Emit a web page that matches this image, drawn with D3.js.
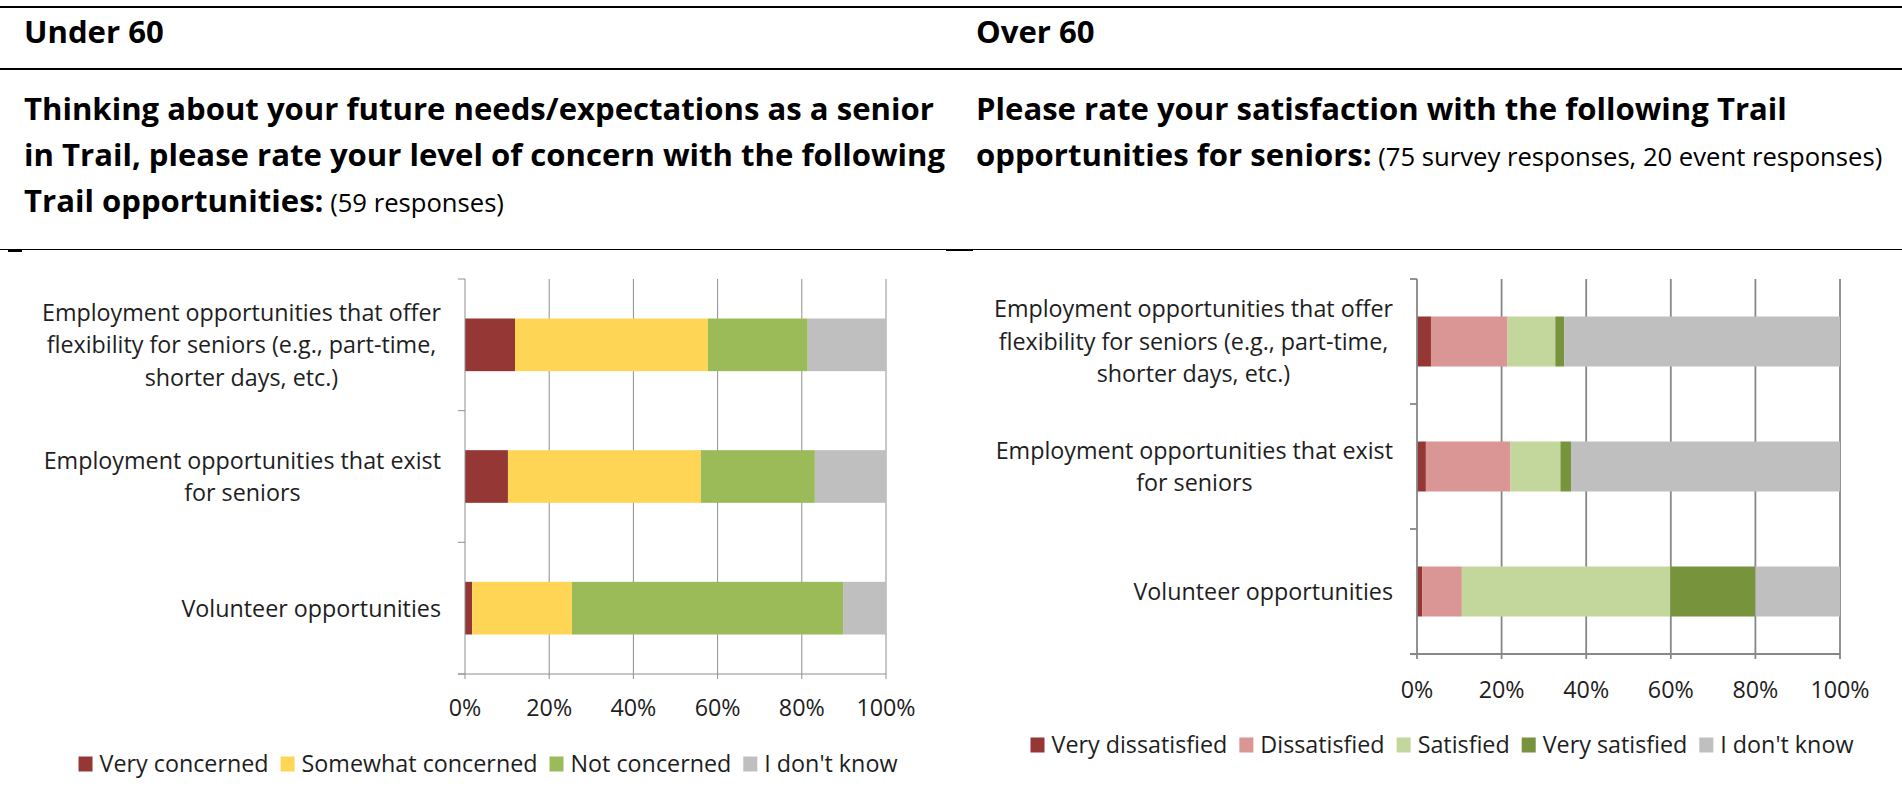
<!DOCTYPE html>
<html><head><meta charset="utf-8">
<script src="https://cdn.jsdelivr.net/npm/d3@7"></script>
<style>
html,body{margin:0;padding:0;background:#fff;}
svg{display:block;}
text{font-family:"Open Sans",sans-serif;}
</style></head><body>
<svg id="c" width="1902" height="801"></svg>
<script>
// ---------- DATA ----------
const categoryLines = [
  ["Employment opportunities that offer", "flexibility for seniors (e.g., part-time,", "shorter days, etc.)"],
  ["Employment opportunities that exist", "for seniors"],
  ["Volunteer opportunities"]
];
const categories = categoryLines.map(l => l.join(" "));

const under60Series = ["Very concerned", "Somewhat concerned", "Not concerned", "I don't know"];
const veryConcerned     = [11.9, 10.2, 1.7];
const somewhatConcerned = [45.8, 45.8, 23.7];
const notConcerned      = [23.7, 27.1, 64.4];
const under60DontKnow   = [18.6, 16.9, 10.2];
const under60Colors = ["#953735", "#FFD555", "#9BBB59", "#BFBFBF"];

const over60Series = ["Very dissatisfied", "Dissatisfied", "Satisfied", "Very satisfied", "I don't know"];
const veryDissatisfied = [3.3, 2.1, 1.2];
const dissatisfied     = [18.1, 20.0, 9.4];
const satisfied        = [11.3, 11.8, 49.3];
const verySatisfied    = [2.1, 2.5, 20.1];
const over60DontKnow   = [65.2, 63.6, 20.0];
const over60Colors = ["#953735", "#D99694", "#C3D69B", "#77933C", "#BFBFBF"];

const tickValues = [0, 20, 40, 60, 80, 100];
const tickLabels = ["0%", "20%", "40%", "60%", "80%", "100%"];

const leftHeading = "Under 60";
const rightHeading = "Over 60";
const leftTitle = [["Thinking about your future needs/expectations as a senior", ""],
                   ["in Trail, please rate your level of concern with the following", ""],
                   ["Trail opportunities:", "(59 responses)"]];
const rightTitle = [["Please rate your satisfaction with the following Trail", ""],
                    ["opportunities for seniors:", "(75 survey responses, 20 event responses)"]];

// ---------- DRAW ----------
const svg = d3.select("#c");
const textColor = "#1e1e1e";

function measure(str, size, weight) {
  const t = svg.append("text").attr("font-size", size).attr("font-weight", weight).text(str);
  const w = t.node().getComputedTextLength();
  t.remove();
  return w;
}
// fit heading font sizes to the reference widths
const boldSize = 30 * 910 / measure(leftTitle[0][0], 30, 700);
const normSize = 26 * 504 / measure(rightTitle[1][1], 26, 400);
const chartSize = 23.3;

// rules
svg.append("rect").attr("x", 0).attr("y", 6).attr("width", 1902).attr("height", 2).attr("fill", "#000");
svg.append("rect").attr("x", 0).attr("y", 68).attr("width", 1902).attr("height", 2).attr("fill", "#000");
svg.append("rect").attr("x", 0).attr("y", 249).attr("width", 1902).attr("height", 1).attr("fill", "#000");
svg.append("rect").attr("x", 8).attr("y", 249).attr("width", 14).attr("height", 3).attr("fill", "#000");
svg.append("rect").attr("x", 946).attr("y", 249).attr("width", 27).attr("height", 2).attr("fill", "#000");

function drawHeading(x, heading, title) {
  svg.append("text").attr("x", x).attr("y", 43).attr("font-size", boldSize).attr("font-weight", 700)
    .attr("fill", "#000").text(heading);
  const baselines = [120, 166, 212];
  title.forEach((ln, i) => {
    const t = svg.append("text").attr("x", x).attr("y", baselines[i]).attr("fill", "#000");
    t.append("tspan").attr("font-size", boldSize).attr("font-weight", 700).text(ln[0]);
    if (ln[1]) t.append("tspan").attr("font-size", normSize).attr("font-weight", 400).text(" " + ln[1]);
  });
}
drawHeading(24, leftHeading, leftTitle);
drawHeading(976, rightHeading, rightTitle);

function drawChart(cfg) {
  const g = svg.append("g");
  const x = d3.scaleLinear().domain([0, 100]).range([cfg.x0, cfg.x1]);
  const y = d3.scaleBand().domain(categories).range([cfg.y0, cfg.y1]).paddingInner(0.6).paddingOuter(0.3);
  const step = y.step();

  const rows = categories.map((c, i) => {
    const o = {cat: c};
    cfg.series.forEach((s, j) => o[s] = cfg.values[j][i]);
    return o;
  });
  const stacked = d3.stack().keys(cfg.series)(rows);

  // gridlines
  g.selectAll(".grid").data(tickValues.slice(1)).join("line")
    .attr("x1", d => x(d)).attr("x2", d => x(d))
    .attr("y1", cfg.y0).attr("y2", cfg.y1 + 5)
    .attr("stroke", cfg.axisColor).attr("stroke-width", cfg.gridWidth);

  // bars
  stacked.forEach((layer, j) => {
    g.selectAll(null).data(layer).join("rect")
      .attr("x", d => x(d[0])).attr("width", d => x(d[1]) - x(d[0]))
      .attr("y", d => y(d.data.cat)).attr("height", y.bandwidth())
      .attr("fill", cfg.colors[j]);
  });

  // y axis line + boundary ticks
  g.append("line").attr("x1", x(0)).attr("x2", x(0)).attr("y1", cfg.y0).attr("y2", cfg.y1 + 5)
    .attr("stroke", cfg.axisColor).attr("stroke-width", cfg.gridWidth);
  const bounds = d3.range(categories.length + 1).map(i => cfg.y0 + i * step);
  g.selectAll(".yt").data(bounds).join("line")
    .attr("x1", x(0) - 7).attr("x2", x(0)).attr("y1", d => d).attr("y2", d => d)
    .attr("stroke", cfg.axisColor).attr("stroke-width", cfg.gridWidth);
  // x axis line
  g.append("line").attr("x1", x(0) - 7).attr("x2", x(100)).attr("y1", cfg.y1).attr("y2", cfg.y1)
    .attr("stroke", cfg.axisColor).attr("stroke-width", cfg.gridWidth);

  // tick labels
  g.selectAll(".tl").data(tickValues).join("text")
    .attr("x", d => x(d)).attr("y", cfg.tickY).attr("text-anchor", "middle")
    .attr("font-size", chartSize).attr("fill", textColor)
    .text((d, i) => tickLabels[i]);

  // category labels
  const lh = 32.5;
  categoryLines.forEach((lines, i) => {
    const cy = y(categories[i]) + y.bandwidth() / 2;
    const maxW = d3.max(lines, l => measure(l, chartSize, 400));
    const cx = cfg.labelRight - maxW / 2;
    lines.forEach((l, k) => {
      g.append("text").attr("x", cx).attr("text-anchor", "middle")
        .attr("y", cy + (k - (lines.length - 1) / 2) * lh + 0.36 * chartSize)
        .attr("font-size", chartSize).attr("fill", textColor).text(l);
    });
  });

  // legend
  const sq = 14, gap1 = 7, gap2 = 12;
  const widths = cfg.series.map(s => measure(s, chartSize, 400));
  const total = d3.sum(widths) + cfg.series.length * (sq + gap1) + (cfg.series.length - 1) * gap2;
  let lx = cfg.legendCenter - total / 2;
  cfg.series.forEach((s, j) => {
    g.append("rect").attr("x", lx).attr("y", cfg.legendY - 7.5).attr("width", sq).attr("height", 15)
      .attr("fill", cfg.colors[j]);
    g.append("text").attr("x", lx + sq + gap1).attr("y", cfg.legendY + 0.36 * chartSize)
      .attr("font-size", chartSize).attr("fill", textColor).text(s);
    lx += sq + gap1 + widths[j] + gap2;
  });
}

drawChart({
  x0: 465, x1: 886, y0: 279, y1: 674,
  series: under60Series,
  values: [veryConcerned, somewhatConcerned, notConcerned, under60DontKnow],
  colors: under60Colors,
  axisColor: "#8f8f8f", gridWidth: 1,
  tickY: 716, labelRight: 441, legendCenter: 488, legendY: 764
});
drawChart({
  x0: 1417, x1: 1840, y0: 279, y1: 654,
  series: over60Series,
  values: [veryDissatisfied, dissatisfied, satisfied, verySatisfied, over60DontKnow],
  colors: over60Colors,
  axisColor: "#878787", gridWidth: 1.8,
  tickY: 698, labelRight: 1393, legendCenter: 1442, legendY: 745
});
</script>
</body></html>
